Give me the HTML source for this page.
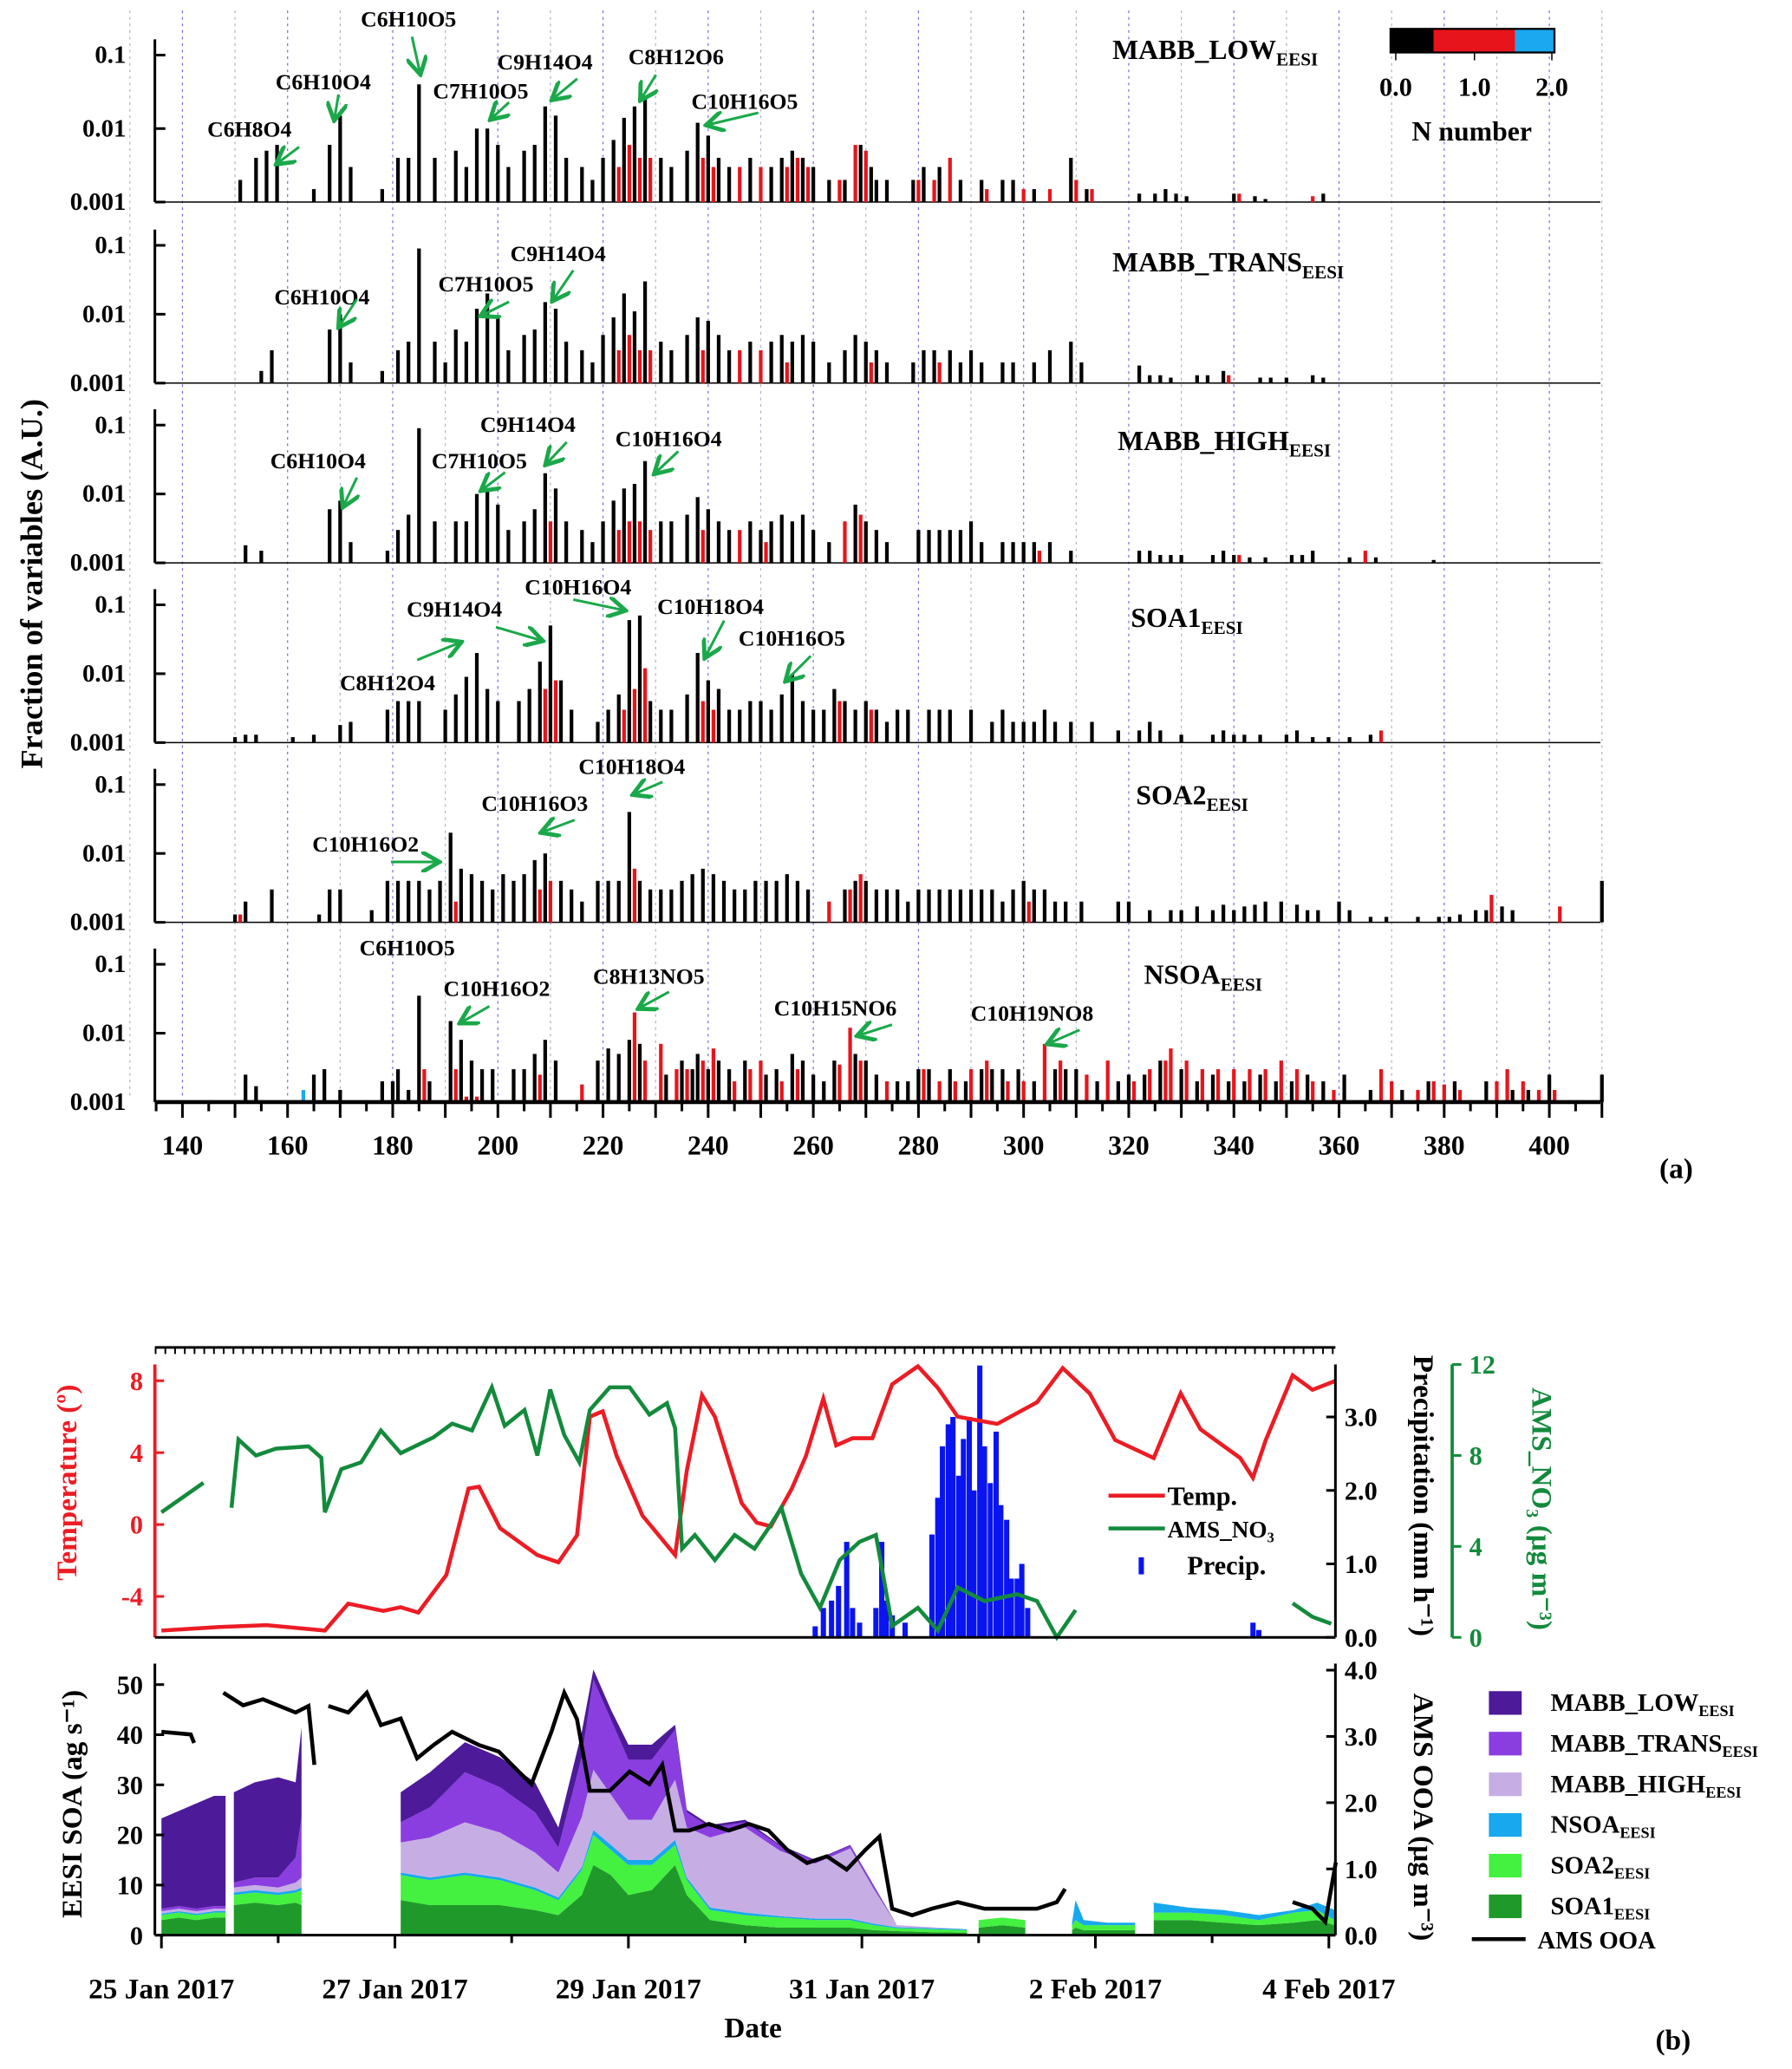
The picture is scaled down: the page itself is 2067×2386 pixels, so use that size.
<!DOCTYPE html>
<html><head><meta charset="utf-8"><style>
html,body{margin:0;padding:0;background:#fff}
svg{display:block}
text{font-family:"Liberation Serif",serif;font-weight:bold}
</style></head><body>
<svg id="fig" width="2067" height="2386" viewBox="0 0 1366 1577" xmlns="http://www.w3.org/2000/svg">
<defs><marker id="ah" markerWidth="8" markerHeight="8" refX="6" refY="4" orient="auto"><path d="M0,0 L7,4 L0,8" fill="none" stroke="#1aa84a" stroke-width="1.6"/></marker></defs>
<g id="pa"></g>
<g id="pb"></g>
</svg>
<script>
// ---------- Panel (a) data ----------
const panelNames=["MABB_LOW","MABB_TRANS","MABB_HIGH","SOA1","SOA2","NSOA"];
const mzTicks=[140,160,180,200,220,240,260,280,300,320,340,360,380,400];
const yTickLabels=["0.1","0.01","0.001"];
const p1=[[151,.002],[154,.004],[156,.005],[158,.006],[165,.0015],[168,.006],[170,.015],[172,.003],[178,.0015],[181,.004],[183,.004],[185,.04],[188,.004],[192,.005],[194,.003],[196,.01],[198,.01],[200,.006],[202,.003],[205,.005],[207,.006],[209,.02],[211,.015],[213,.004],[216,.003],[218,.002],[220,.004],[222,.007],[223,.003,1],[224,.014],[225,.006,1],[226,.02],[227,.004,1],[228,.025],[229,.004,1],[231,.004],[233,.003],[236,.005],[238,.012],[239,.004,1],[240,.008],[241,.003,1],[242,.004],[244,.003],[246,.003,1],[248,.004],[250,.003,1],[252,.003],[254,.004],[255,.003,1],[256,.005],[257,.004,1],[258,.004],[259,.003,1],[260,.003],[263,.002],[265,.002,1],[266,.002],[268,.006,1],[269,.006],[270,.005,1],[271,.003],[272,.002],[274,.002],[279,.002],[280,.002,1],[281,.003],[283,.002,1],[284,.003],[286,.004,1],[288,.002],[292,.002],[293,.0015,1],[296,.002],[298,.002],[300,.0015,1],[302,.0015],[305,.0015,1],[309,.004],[310,.002,1],[312,.0015],[313,.0015,1],[322,.0013],[325,.0013],[327,.0015],[329,.0013],[331,.0012],[340,.0013],[341,.0013,1],[344,.0012],[346,.0011],[355,.0012,1],[357,.0013]];
const p2=[[155,.0015],[157,.003],[168,.006],[170,.01],[172,.002],[178,.0015],[181,.003],[183,.004],[185,.09],[188,.004],[190,.002],[192,.006],[194,.004],[196,.012],[198,.02],[200,.009],[202,.003],[205,.005],[207,.006],[209,.015],[211,.012],[213,.004],[216,.003],[218,.002],[220,.005],[222,.009],[223,.003,1],[224,.02],[225,.005,1],[226,.011],[227,.003,1],[228,.03],[229,.003,1],[231,.004],[233,.003],[236,.005],[238,.009],[239,.003,1],[240,.008],[242,.005],[244,.003],[246,.003,1],[248,.004],[250,.003,1],[252,.004],[254,.005],[255,.002,1],[256,.004],[258,.005],[260,.004],[263,.002],[266,.003],[268,.005],[270,.004],[271,.002,1],[272,.003],[274,.002],[279,.002],[281,.003],[283,.003],[284,.002,1],[286,.003],[288,.002],[290,.003],[292,.002],[296,.002],[298,.002],[302,.002],[305,.003],[309,.004],[311,.002],[322,.0018],[324,.0013],[326,.0013],[328,.0012],[333,.0013],[335,.0013],[338,.0015],[339,.0013,1],[345,.0012],[347,.0012],[350,.0012],[355,.0013],[357,.0012]];
const p3=[[152,.0018],[155,.0015],[168,.006],[170,.008],[172,.002],[179,.0015],[181,.003],[183,.005],[185,.09],[188,.004],[192,.004],[194,.004],[196,.01],[198,.012],[200,.007],[202,.003],[205,.004],[207,.006],[209,.02],[210,.004,1],[211,.012],[213,.004],[216,.003],[218,.002],[220,.004],[222,.008],[223,.003,1],[224,.012],[225,.004,1],[226,.014],[227,.004,1],[228,.03],[229,.003,1],[231,.004],[233,.004],[236,.005],[238,.009],[239,.003,1],[240,.006],[242,.004],[244,.003],[246,.003,1],[248,.004],[250,.003],[251,.002,1],[252,.004],[254,.005],[256,.004],[258,.005],[260,.003],[263,.002],[266,.004,1],[268,.007],[269,.005,1],[270,.004],[272,.003],[274,.002],[280,.003],[282,.003],[284,.003],[286,.003],[288,.003],[290,.004],[292,.002],[296,.002],[298,.002],[300,.002],[302,.002],[303,.0015,1],[305,.002],[309,.0015],[322,.0015],[324,.0015],[326,.0013],[328,.0013],[330,.0013],[336,.0013],[338,.0015],[340,.0013],[341,.0013,1],[343,.0012],[346,.0012],[351,.0013],[353,.0013],[355,.0015],[362,.0012],[365,.0015,1],[367,.0012],[378,.0011]];
const p4=[[150,.0012],[152,.0013],[154,.0013],[161,.0012],[165,.0013],[170,.0018],[172,.002],[179,.003],[181,.004],[183,.004],[185,.004],[190,.003],[192,.005],[194,.009],[196,.02],[198,.006],[200,.004],[204,.004],[206,.006],[208,.015],[209,.006,1],[210,.05],[211,.008,1],[212,.008],[214,.003],[219,.002],[221,.003],[223,.005],[224,.003,1],[225,.06],[226,.006,1],[227,.07],[228,.012,1],[229,.004],[231,.003],[233,.003],[236,.005],[238,.02],[239,.004,1],[240,.008],[241,.003,1],[242,.006],[244,.003],[246,.003],[248,.004],[250,.004],[252,.003],[254,.005],[256,.01],[258,.004],[260,.003],[262,.003],[264,.006],[265,.004,1],[266,.004],[268,.003],[270,.004],[271,.003,1],[272,.003],[274,.002],[276,.003],[278,.003],[282,.003],[284,.003],[286,.003],[290,.003],[294,.002],[296,.003],[298,.002],[300,.002],[302,.002],[304,.003],[306,.002],[309,.002],[313,.002],[318,.0015],[322,.0015],[324,.002],[326,.0015],[330,.0013],[336,.0013],[338,.0015],[340,.0013],[342,.0013],[345,.0013],[350,.0013],[352,.0015],[355,.0012],[358,.0012],[362,.0012],[366,.0013],[368,.0015,1]];
const p5=[[150,.0013],[151,.0013,1],[152,.002],[157,.003],[166,.0013],[168,.003],[170,.003],[176,.0015],[179,.004],[181,.004],[183,.004],[185,.004],[187,.003],[189,.004],[191,.02],[192,.002,1],[193,.006],[195,.005],[197,.004],[199,.003],[201,.005],[203,.004],[205,.005],[207,.008],[208,.003,1],[209,.01],[210,.004,1],[212,.004],[214,.003],[216,.002],[219,.004],[221,.004],[223,.004],[225,.04],[226,.006,1],[227,.004],[229,.003],[231,.003],[233,.003],[235,.004],[237,.005],[239,.006],[241,.005],[243,.004],[245,.003],[247,.003],[249,.004],[251,.004],[253,.004],[255,.005],[257,.004],[259,.003],[263,.002,1],[266,.003],[267,.003,1],[268,.004],[269,.005,1],[270,.004],[272,.003],[274,.003],[276,.003],[278,.002],[280,.003],[282,.003],[284,.003],[286,.003],[288,.003],[290,.003],[292,.003],[294,.003],[296,.002],[298,.003],[300,.004],[301,.002,1],[302,.003],[304,.003],[306,.002],[308,.002],[311,.002],[318,.002],[320,.002],[324,.0015],[328,.0015],[330,.0015],[333,.0017],[336,.0015],[338,.0018],[340,.0015],[342,.0017],[344,.0018],[346,.002],[349,.002],[352,.0018],[354,.0015],[356,.0015],[360,.002],[362,.0015],[366,.0012],[369,.0012],[375,.0012],[379,.0012],[381,.0012],[383,.0013],[386,.0015],[388,.0015],[389,.0025,1],[391,.0017],[393,.0015],[402,.0017,1],[410,.004]];
const p6=[[152,.0025],[154,.0017],[163,.0015,2],[165,.0025],[167,.003],[170,.0015],[178,.002],[180,.002],[181,.003],[183,.0015],[185,.035],[186,.003,1],[187,.002],[191,.015],[192,.003,1],[193,.008],[194,.0012,1],[195,.004],[196,.0012,1],[197,.003],[199,.003],[203,.003],[205,.003],[207,.005],[208,.0025,1],[209,.008],[211,.004],[216,.0018,1],[219,.004],[221,.006],[223,.005],[225,.008],[226,.02,1],[227,.007],[228,.004,1],[231,.007,1],[232,.0025],[234,.003,1],[235,.004],[236,.003,1],[237,.003],[238,.005],[239,.004,1],[240,.003],[241,.006,1],[242,.004],[244,.003],[245,.002,1],[247,.004],[248,.003,1],[250,.004,1],[251,.0025],[253,.003],[254,.002,1],[256,.005],[257,.003,1],[258,.004],[260,.0025],[262,.002],[264,.004],[265,.0035,1],[267,.012,1],[268,.005],[269,.004,1],[270,.004],[272,.0025],[274,.002,1],[276,.002],[278,.002],[280,.003],[281,.003,1],[282,.003],[284,.002,1],[286,.003],[287,.002,1],[289,.002],[290,.003,1],[292,.003],[293,.004,1],[294,.003],[296,.003],[297,.002,1],[299,.003],[300,.002,1],[302,.002],[304,.007,1],[306,.003],[307,.004,1],[308,.003],[310,.003],[312,.0025,1],[314,.002],[316,.004,1],[318,.002],[320,.0025],[321,.002,1],[323,.0025],[324,.003,1],[326,.004],[327,.004,1],[328,.006,1],[330,.003],[331,.004,1],[333,.002],[334,.003,1],[336,.0025],[337,.003,1],[339,.002],[340,.003,1],[342,.002],[343,.003,1],[345,.0025],[346,.003,1],[348,.002],[349,.004,1],[351,.002],[352,.003,1],[354,.0025],[355,.002,1],[357,.002],[359,.0015,1],[361,.0025],[366,.0015],[368,.003,1],[370,.002,1],[372,.0015],[375,.0015,1],[377,.002],[378,.002,1],[380,.0018,1],[382,.002],[383,.0015,1],[388,.002],[390,.002,1],[392,.003,1],[393,.0015],[395,.002,1],[396,.0015],[398,.0015,1],[400,.0025],[401,.0015,1],[410,.0025]];
const panels=[p1,p2,p3,p4,p5,p6];
const tops=[42,187,324,461,598,735];
const bots=[154,292,429,566,703,840];
// ---------- Panel (b) data ----------
const dateLabels=["25 Jan 2017","27 Jan 2017","29 Jan 2017","31 Jan 2017","2 Feb 2017","4 Feb 2017"];
const dateDays=[0,2,4,6,8,10];
const tempT=[0,0.5,0.9,1.4,1.6,1.9,2.05,2.2,2.44,2.63,2.72,2.9,3.22,3.4,3.56,3.67,3.78,3.9,4.12,4.4,4.5,4.63,4.74,4.97,5.1,5.22,5.4,5.52,5.67,5.78,5.92,6.09,6.26,6.48,6.65,6.82,7.16,7.5,7.72,7.95,8.17,8.5,8.73,8.9,9.24,9.35,9.46,9.69,9.86,10.06];
const tempV=[-5.9,-5.7,-5.6,-5.9,-4.4,-4.8,-4.6,-4.9,-2.8,2,2.1,-0.2,-1.7,-2.1,-0.6,6,6.3,3.8,0.5,-1.7,3,7.2,6,1.2,0.1,-0.1,2,3.8,7,4.4,4.8,4.8,7.8,8.8,7.6,6,5.6,6.8,8.7,7.3,4.7,3.7,7.3,5.3,3.7,2.6,4.7,8.3,7.5,8];
const no3T=[0,0.36,null,0.6,0.66,0.81,0.98,1.26,1.37,1.4,1.54,1.71,1.88,2.05,2.33,2.49,2.66,2.83,2.94,3.11,3.22,3.33,3.45,3.58,3.67,3.84,4.01,4.18,4.33,4.4,4.46,4.57,4.74,4.91,5.08,5.2,5.31,5.48,5.64,5.81,5.98,6.12,6.26,6.48,6.65,6.82,7.05,7.33,7.5,7.67,7.83,null,9.69,9.86,10.02];
const no3V=[5.5,6.8,null,5.7,8.7,8,8.3,8.4,7.9,5.5,7.4,7.7,9.1,8.1,8.8,9.4,9.1,11,9.3,10,8,10.9,8.9,7.7,10,11,11,9.8,10.3,9.2,3.9,4.5,3.4,4.5,3.9,4.8,5.7,2.8,1.3,3.4,4.2,4.5,0.5,1.3,0.3,2.2,1.6,1.9,1.6,0,1.2,null,1.5,0.9,0.6];
const precT=[5.6,5.67,5.74,5.8,5.87,5.92,5.98,6.12,6.17,6.21,6.26,6.37,6.6,6.65,6.69,6.74,6.78,6.83,6.87,6.92,6.96,7.01,7.05,7.1,7.15,7.19,7.24,7.28,7.33,7.37,7.42,9.35,9.4];
const precV=[0.15,0.4,0.5,0.7,1.3,0.4,0.2,0.4,1.3,0.5,0.3,0.2,1.4,1.9,2.6,2.9,3.0,2.2,2.7,3.0,2.0,3.7,2.6,2.1,2.8,1.8,1.6,0.8,0.8,1.0,0.4,0.2,0.1];
// stacked SOA segments: times and each factor (bottom to top)
const soaT=[[0,0.15,0.3,0.45,0.55],[0.62,0.8,1.0,1.15,1.2],[2.05,2.3,2.6,2.9,3.2,3.4,3.6,3.7,3.85,4.0,4.2,4.4,4.5,4.7,5.0,5.3,5.6,5.9,6.1,6.3,6.6,6.9],[7.0,7.2,7.4],[7.8,7.83,7.9,8.1,8.34],[8.5,8.8,9.1,9.4,9.7,9.9,10.05]];
const soa1=[[3,3.5,3,3.5,3.5],[6,6.5,6,6.5,6],[7,6,6,6,5,4,8,14,12,8,9,14,8,3,2,1.5,1.5,1.5,1,0.8,0.6,0.5],[1.5,2,1.5],[1,1.5,1,1,1],[3,3,2.5,2,2.5,3,2]];
const soa2=[[1,1,1,1,1],[2,2,2,2,3],[5,5,6,5,4,3,5,6,5,6,5,4,3,2,2,2,1.5,1.5,1,0.6,0.6,0.5],[1.5,1.5,1.5],[1,1.5,1,1,1],[1.5,1.5,1.5,1,2,2,1]];
const nsoa=[[0.3,0.3,0.3,0.3,0.3],[0.5,0.5,0.5,0.5,0.5],[0.5,0.5,0.5,0.5,0.5,0.5,0.5,1,1,1,1,1,0.5,0.5,0.5,0.3,0.3,0.3,0.3,0.2,0.2,0.2],[0,0,0],[0.5,4,1,0.5,0.5],[2,1,1,1,0.5,1.5,2]];
const high=[[0.5,0.5,0.5,0.5,0.5],[1,1,1,1.5,2],[6,8,10,9,7,5,10,12,10,8,8,12,10,14,17,13,11,14,7,0.4,0.2,0],[0,0,0],[0,0,0,0,0],[0,0,0,0,0,0,0]];
const trans=[[0.5,0.5,0.5,0.5,0.5],[1,1.5,2,5,12],[4,6,10,9,8,5,12,18,15,12,12,10,3,2,1,1,0.5,0.5,0.5,0,0,0],[0,0,0],[0,0,0,0,0],[0,0,0,0,0,0,0]];
const low=[[18,19,21,22,22],[18,19,20,15,18],[6,7,6,6,6,4,5,2,2,3,3,1,0.5,0.5,0.5,0.2,0.2,0.2,0.2,0,0,0],[0,0,0],[0,0,0,0,0],[0,0,0,0,0,0,0]];
const ooaT=[0,0.25,0.28,null,0.53,0.7,0.87,1.15,1.26,1.31,null,1.43,1.6,1.76,1.88,2.05,2.19,2.33,2.49,2.72,2.89,3.06,3.17,3.34,3.45,3.56,3.67,3.84,4.01,4.18,4.29,4.4,4.52,4.69,4.86,5.03,5.2,5.36,5.53,5.7,5.87,6.03,6.15,6.26,6.43,6.6,6.82,7.05,7.28,7.5,7.67,7.74,null,9.69,9.86,9.97,10.06];
const ooaV=[3.07,3.03,2.9,null,3.66,3.47,3.56,3.36,3.46,2.57,null,3.46,3.36,3.66,3.17,3.27,2.67,2.87,3.07,2.87,2.77,2.47,2.28,3.07,3.66,3.26,2.18,2.18,2.47,2.28,2.57,1.58,1.58,1.68,1.58,1.68,1.58,1.29,1.09,1.19,0.99,1.29,1.49,0.4,0.3,0.4,0.5,0.4,0.4,0.4,0.5,0.7,null,0.5,0.4,0.2,1.1];

const NS="http://www.w3.org/2000/svg";
function el(tag,attrs,parent,txt){const e=document.createElementNS(NS,tag);for(const k in attrs)e.setAttribute(k,attrs[k]);if(txt!==undefined)e.textContent=txt;parent.appendChild(e);return e;}
const pa=document.getElementById('pa'), pb=document.getElementById('pb');
const X0=118,X1=1220;
const xm=mz=>139+(mz-140)*4.008;
// gridlines
for(let m=130;m<=410;m+=10){const g=el('line',{x1:xm(m),x2:xm(m),y1:8,y2:838,stroke:m%20===0?'#7070e0':'#b0b0c8','stroke-width':0.8,'stroke-dasharray':'2,3'},pa);

}
const colors=['#000','#e8141b','#1ba8f0'];
panels.forEach((data,i)=>{
  const top=tops[i],bot=bots[i],k=(bot-top)/2;
  const yv=v=>bot-(Math.log10(v)+3)*k;
  const g=el('g',{},pa);
  
  
  const ax=el('line',{x1:X0,x2:X0,y1:top-12,y2:bot,stroke:'#000','stroke-width':2},g);
  
  
  if(i<5){const bl=el('line',{x1:X0,x2:X1,y1:bot,y2:bot,stroke:'#000','stroke-width':1},g);
  
  }
  yTickLabels.forEach((t,j)=>{const y=top+j*k;
    el('line',{x1:X0,x2:X0+8,y1:y,y2:y,stroke:'#000','stroke-width':2},g);
    const tl=el('text',{x:X0-22,y:y+6,'font-size':19,'text-anchor':'end'},g,t);
    
    });
  data.forEach(d=>{const y=yv(d[1]);
    const b=el('rect',{x:xm(d[0])-1.4,y:y,width:2.8,height:bot-y,fill:colors[d[2]||0]},g);
    
    });
});
// x axis
const xa=el('line',{x1:X0,x2:X1,y1:840,y2:840,stroke:'#000','stroke-width':3},pa);


for(let m=135;m<=410;m+=5){el('line',{x1:xm(m),x2:xm(m),y1:840,y2:m%10===0?852:847,stroke:'#000','stroke-width':2},pa);}
mzTicks.forEach(m=>{const t=el('text',{x:xm(m),y:880,'font-size':21,'text-anchor':'middle'},pa,m);

});
</script>
<script>
// static labels for panel (a)
const pa2=document.getElementById('pa');
const L=[["MABB_LOW",848,45],["MABB_TRANS",848,207],["MABB_HIGH",852,343],["SOA1",862,478],["SOA2",866,613],["NSOA",872,750]];
L.forEach(l=>{const t=el('text',{x:l[1],y:l[2],'font-size':21},pa2);


el('tspan',{},t,l[0]);el('tspan',{dy:5,'font-size':14},t,'EESI');});
const ann=[["C6H10O5",275,20,314,28,320,55],["C6H10O4",210,68,258,72,255,90],["C6H8O4",158,104,228,112,212,124],["C7H10O5",330,75,388,78,375,90],["C9H14O4",379,53,440,60,422,75],["C8H12O6",479,49,500,57,489,75],["C10H16O5",527,83,578,86,540,95],
["C6H10O4",209,232,272,228,259,248],["C7H10O5",334,222,388,230,368,240],["C9H14O4",389,199,437,206,422,228],
["C6H10O4",206,357,272,364,262,385],["C7H10O5",329,357,385,360,368,373],["C9H14O4",366,329,432,337,417,353],["C10H16O4",469,340,517,344,500,360],
["C9H14O4",310,470,318,503,350,490],["C10H16O4",400,453,378,478,412,488],["",0,0,437,457,475,465],["C10H18O4",501,468,552,473,538,500],["C10H16O5",563,492,618,500,600,518],["C8H12O4",259,526,0,0,0,0],
["C10H18O4",441,590,505,596,484,605],["C10H16O3",367,618,438,625,414,634],["C10H16O2",238,649,298,657,333,657],
["C6H10O5",274,728,0,0,0,0],["C10H16O2",338,759,373,767,352,779],["C8H13NO5",452,750,510,756,488,768],["C10H15NO6",590,774,680,781,655,789],["C10H19NO8",740,778,823,785,800,795]];
ann.forEach(a=>{if(a[0]){const t=el('text',{x:a[1],y:a[2],'font-size':17},pa2,a[0]);

}
if(a[3]){const l=el('line',{x1:a[3],y1:a[4],x2:a[5],y2:a[6],stroke:'#1aa84a','stroke-width':2,'marker-end':'url(#ah)'},pa2);

}});
const cb=el('g',{},pa2);


el('rect',{x:1060,y:22,width:33,height:18,fill:'#000'},cb);
el('rect',{x:1093,y:22,width:62,height:18,fill:'#e8141b'},cb);
el('rect',{x:1155,y:22,width:30,height:18,fill:'#1ba8f0'},cb);
el('rect',{x:1060,y:22,width:125,height:18,fill:'none',stroke:'#000','stroke-width':1.5},cb);
[[1064,'0.0'],[1124,'1.0'],[1183,'2.0']].forEach(c=>{el('line',{x1:c[0],x2:c[0],y1:40,y2:46,stroke:'#000'},cb);el('text',{x:c[0],y:73,'font-size':20,'text-anchor':'middle'},cb,c[1]);});
el('text',{x:1122,y:107,'font-size':21,'text-anchor':'middle'},cb,'N number');
const yt=el('text',{x:0,y:0,'font-size':24,'text-anchor':'middle',transform:'translate(32,445) rotate(-90)'},pa2,'Fraction of variables (A.U.)');


const la=el('text',{x:1265,y:898,'font-size':22},pa2,'(a)');



// ---------- Panel (b) ----------
const PB=document.getElementById('pb');
const tx=t=>123+t*89;
const XL=118,XR=1018;
const yT=v=>1162-v*13.7, yP=v=>1248-v*56, yN=v=>1248-v*17.33;
const yS=v=>1475-v*3.82, yO=v=>1475-v*50.5;
function path(T,V,fy){let d='',pen=false;T.forEach((t,i)=>{if(t===null||V[i]===null){pen=false;return;}d+=(pen?'L':'M')+tx(t).toFixed(1)+','+fy(V[i]).toFixed(1);pen=true;});return d;}
// top axis with ticks
el('line',{x1:XL,x2:XR,y1:1027,y2:1027,stroke:'#000','stroke-width':2},PB);
for(let t=-0.05;t<=10.1;t+=1/12){el('line',{x1:tx(t),x2:tx(t),y1:1027,y2:1032,stroke:'#000','stroke-width':1.3},PB);}
// precip bars
precT.forEach((t,i)=>{const b=el('rect',{x:tx(t)-2,y:yP(precV[i]),width:4,height:1248-yP(precV[i]),fill:'#0a14f0'},PB);

});
const tl=el('path',{d:path(tempT,tempV,yT),fill:'none',stroke:'#ec1c24','stroke-width':3},PB);


const nl=el('path',{d:path(no3T,no3V,yN),fill:'none',stroke:'#138a3c','stroke-width':3},PB);


// axes top plot
el('line',{x1:XL,x2:XL,y1:1040,y2:1248,stroke:'#ec1c24','stroke-width':2.5},PB);
el('line',{x1:XL,x2:XR,y1:1248,y2:1248,stroke:'#000','stroke-width':2},PB);
el('line',{x1:XR,x2:XR,y1:1040,y2:1248,stroke:'#000','stroke-width':2},PB);
el('line',{x1:1107,x2:1107,y1:1040,y2:1248,stroke:'#138a3c','stroke-width':2.5},PB);
[-4,0,4,8].forEach(v=>{el('line',{x1:XL,x2:XL+7,y1:yT(v),y2:yT(v),stroke:'#ec1c24','stroke-width':2},PB);
const t=el('text',{x:XL-9,y:yT(v)+7,'font-size':20,'text-anchor':'end',fill:'#ec1c24'},PB,v);

});
['0.0','1.0','2.0','3.0'].forEach(v=>{const y=yP(+v);el('line',{x1:XR-7,x2:XR,y1:y,y2:y,stroke:'#000','stroke-width':2},PB);
el('text',{x:XR+7,y:y+7,'font-size':20},PB,v);});
[0,4,8,12].forEach(v=>{const y=yN(v);el('line',{x1:1107,x2:1114,y1:y,y2:y,stroke:'#138a3c','stroke-width':2},PB);
el('text',{x:1120,y:y+7,'font-size':20,fill:'#138a3c'},PB,v);});
el('text',{x:0,y:0,'font-size':22,'text-anchor':'middle',fill:'#ec1c24',transform:'translate(58,1130) rotate(-90)'},PB,'Temperature (º)');
el('text',{x:0,y:0,'font-size':22,'text-anchor':'middle',transform:'translate(1078,1140) rotate(90)'},PB,'Precipitation (mm h⁻¹)');
el('text',{x:0,y:0,'font-size':22,'text-anchor':'middle',fill:'#138a3c',transform:'translate(1168,1150) rotate(90)'},PB,'AMS_NO₃ (μg m⁻³)');
// top legend
const lg=el('g',{},PB);


el('line',{x1:845,x2:888,y1:1140,y2:1140,stroke:'#ec1c24','stroke-width':3},lg);el('text',{x:890,y:1147,'font-size':20},lg,'Temp.');
el('line',{x1:845,x2:888,y1:1165,y2:1165,stroke:'#138a3c','stroke-width':3},lg);el('text',{x:890,y:1172,'font-size':18},lg,'AMS_NO₃');
el('rect',{x:868,y:1187,width:4,height:13,fill:'#0a14f0'},lg);el('text',{x:905,y:1200,'font-size':20},lg,'Precip.');
// stacked areas
const sc=['#1f9a2a','#44f040','#17a8ee','#c6aee4','#8a3ee0','#4d1a9a'];
const ser=[soa1,soa2,nsoa,high,trans,low];
const sn=['soa1','soa2','nsoa','mabb-high','mabb-trans','mabb-low'];
soaT.forEach((T,s)=>{let base=T.map(()=>0);
  ser.forEach((S,k)=>{const top=T.map((t,i)=>base[i]+S[s][i]);
    let d='M'+T.map((t,i)=>tx(t).toFixed(1)+','+yS(top[i]).toFixed(1)).join('L');
    for(let i=T.length-1;i>=0;i--)d+='L'+tx(T[i]).toFixed(1)+','+yS(base[i]).toFixed(1);
    const a=el('path',{d:d+'Z',fill:sc[k]},PB);
    
    
    base=top;});
});
const ol=el('path',{d:path(ooaT,ooaV,yO),fill:'none',stroke:'#000','stroke-width':3},PB);


el('line',{x1:XL,x2:XL,y1:1268,y2:1475,stroke:'#000','stroke-width':2},PB);
el('line',{x1:XR,x2:XR,y1:1268,y2:1475,stroke:'#000','stroke-width':2},PB);
el('line',{x1:XL,x2:XR,y1:1475,y2:1475,stroke:'#000','stroke-width':2},PB);
[0,10,20,30,40,50].forEach(v=>{el('line',{x1:XL,x2:XL+7,y1:yS(v),y2:yS(v),stroke:'#000','stroke-width':2},PB);
el('text',{x:XL-9,y:yS(v)+7,'font-size':20,'text-anchor':'end'},PB,v);});
['0.0','1.0','2.0','3.0','4.0'].forEach(v=>{const y=yO(+v);el('line',{x1:XR-7,x2:XR,y1:y,y2:y,stroke:'#000','stroke-width':2},PB);
el('text',{x:XR+7,y:y+7,'font-size':20},PB,v);});
for(let t=0;t<=10;t+=1){el('line',{x1:tx(t),x2:tx(t),y1:1475,y2:t%2?1481:1485,stroke:'#000','stroke-width':2},PB);}
dateLabels.forEach((s,i)=>{const t=el('text',{x:tx(dateDays[i]),y:1523,'font-size':22,'text-anchor':'middle'},PB,s);

});
el('text',{x:574,y:1553,'font-size':22,'text-anchor':'middle'},PB,'Date');
el('text',{x:0,y:0,'font-size':22,'text-anchor':'middle',transform:'translate(62,1375) rotate(-90)'},PB,'EESI SOA (ag s⁻¹)');
el('text',{x:0,y:0,'font-size':22,'text-anchor':'middle',transform:'translate(1078,1385) rotate(90)'},PB,'AMS OOA (μg m⁻³)');
const lb=el('g',{},PB);


const ll=[['MABB_LOW',sc[5],1304],['MABB_TRANS',sc[4],1335],['MABB_HIGH',sc[3],1366],['NSOA',sc[2],1397],['SOA2',sc[1],1428],['SOA1',sc[0],1459]];
ll.forEach(r=>{el('rect',{x:1135,y:r[2]-15,width:25,height:18,fill:r[1]},lb);
const t=el('text',{x:1182,y:r[2],'font-size':19},lb);el('tspan',{},t,r[0]);el('tspan',{dy:4,'font-size':12},t,'EESI');});
el('line',{x1:1122,x2:1163,y1:1478,y2:1478,stroke:'#000','stroke-width':3},lb);
el('text',{x:1172,y:1485,'font-size':19},lb,'AMS OOA');
const lbb=el('text',{x:1262,y:1562,'font-size':22},PB,'(b)');


</script>
</body></html>
